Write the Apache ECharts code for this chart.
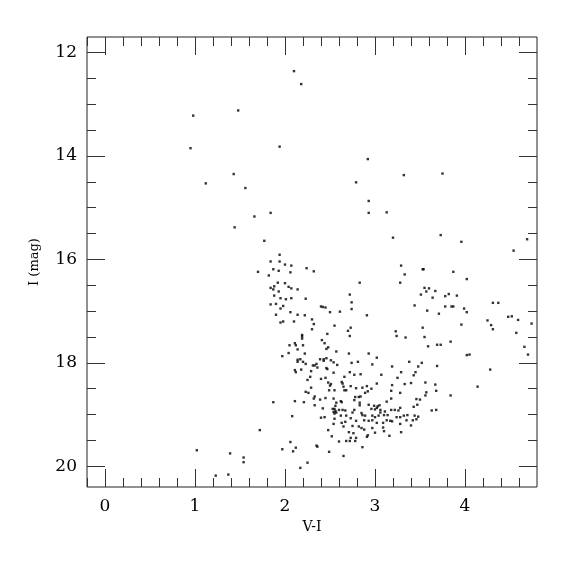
<!DOCTYPE html>
<html><head><meta charset="utf-8">
<script src="https://cdn.jsdelivr.net/npm/echarts@6/dist/echarts.min.js"></script>
<style>html,body{margin:0;padding:0;background:#fff}#c{width:575px;height:575px}</style>
</head><body><div id="c"></div>
<script>
// V-I colour of each star
const viColor = [
2.10,2.18,1.48,0.98,0.95,1.94,1.43,1.12,1.56,1.84,1.66,1.44,
2.92,3.32,3.75,2.79,2.93,2.93,3.13,3.73,
1.77,1.94,1.84,1.94,2.00,2.07,1.87,1.93,1.70,2.06,2.24,2.32,1.82,2.83,1.92,2.00,1.84,1.88,1.87,2.04,2.07,2.14,1.93,2.72,1.88,1.95,2.01,2.07,2.23,2.74,1.84,1.90,1.98,1.95,2.40,2.42,2.45,2.74,2.50,2.61,2.06,1.90,2.14,2.22,2.91,2.30,1.95,1.98,2.10,2.32,2.55,2.73,2.30,2.70,2.47,2.19,2.19,2.19,2.72,
3.20,3.96,4.69,4.54,3.29,3.53,3.54,3.33,3.87,4.02,3.28,3.55,3.60,3.67,3.57,3.51,3.82,3.78,3.64,3.91,3.44,3.78,3.85,3.87,3.99,4.31,4.37,3.58,4.02,3.71,4.48,4.52,4.59,4.25,4.74,3.96,4.29,4.31,3.53,3.23,3.24,3.34,3.55,4.57,
2.41,2.44,2.11,2.05,2.12,2.20,2.48,2.46,2.14,2.57,2.04,2.22,1.97,2.46,2.43,2.39,2.17,2.14,2.43,2.51,2.14,2.20,2.54,2.23,2.35,2.58,2.33,2.31,2.36,2.46,2.47,2.18,2.11,2.12,2.29,2.54,2.28,2.45,2.40,2.25,2.48,2.51,2.50,2.29,2.23,2.26,2.49,2.55,2.33,2.32,2.45,2.39,2.54,2.11,2.21,1.87,2.57,2.33,2.42,2.56,2.55,2.53,2.56,2.54,2.57,2.55,
3.59,3.69,2.71,2.93,3.02,2.74,2.81,2.97,3.38,3.52,3.48,3.69,3.19,2.72,2.77,2.84,3.07,3.29,3.45,3.43,2.66,3.25,2.63,2.64,3.56,3.67,3.40,3.33,3.02,2.73,2.65,2.66,2.68,2.91,2.86,2.79,2.96,3.19,3.18,2.92,2.89,2.84,2.82,2.78,2.77,3.28,3.57,3.56,3.68,2.62,2.63,3.13,3.18,3.46,3.50,3.47,3.43,2.93,2.99,3.03,3.05,3.06,2.96,3.00,3.02,2.83,2.83,2.77,2.75,2.67,2.60,2.64,3.18,3.22,3.26,3.28,3.11,2.85,3.06,3.63,3.68,
2.08,2.40,2.44,2.55,2.54,1.72,2.48,2.52,2.06,2.35,2.36,2.12,1.97,2.09,2.49,1.54,1.54,2.25,2.17,
2.62,2.68,2.73,2.86,2.89,2.97,3.00,3.04,3.10,3.14,3.24,3.28,3.32,3.36,3.44,2.63,2.67,2.79,2.88,2.93,2.97,3.02,3.09,3.13,3.17,3.19,3.28,3.35,3.42,3.46,3.48,3.40,2.65,2.75,2.82,2.85,2.88,2.97,3.09,3.10,3.00,2.92,2.91,3.16,3.29,2.76,2.71,2.73,2.79,2.78,2.72,2.68,2.60,2.86,2.65,
3.73,3.84,4.66,4.70,4.02,4.05,4.28,4.14,3.84,
1.02,1.39,1.23,1.37
];
// I magnitude of each star (same order)
const iMag = [
12.36,12.61,13.12,13.22,13.85,13.82,14.35,14.53,14.62,15.10,15.17,15.38,
14.06,14.37,14.34,14.51,14.87,15.10,15.09,15.53,
15.64,15.91,16.04,16.04,16.10,16.12,16.19,16.22,16.24,16.25,16.17,16.23,16.31,16.45,16.45,16.46,16.55,16.52,16.58,16.53,16.56,16.58,16.62,16.68,16.70,16.75,16.77,16.75,16.76,16.83,16.87,16.86,16.90,16.95,16.91,16.92,16.93,16.96,17.02,17.01,17.02,17.07,17.07,17.08,17.08,17.16,17.22,17.20,17.20,17.25,17.28,17.32,17.35,17.38,17.44,17.46,17.49,17.53,17.48,
15.58,15.66,15.61,15.83,16.12,16.19,16.19,16.29,16.24,16.38,16.45,16.55,16.56,16.61,16.62,16.68,16.67,16.71,16.74,16.70,16.89,16.91,16.91,16.91,16.95,16.84,16.84,16.99,17.02,17.05,17.11,17.10,17.17,17.18,17.24,17.26,17.27,17.35,17.32,17.39,17.48,17.51,17.50,17.42,
17.56,17.62,17.62,17.66,17.66,17.66,17.70,17.73,17.74,17.78,17.81,17.82,17.87,17.91,17.93,17.93,17.93,17.94,17.96,17.95,17.98,17.98,17.99,18.02,18.02,18.04,18.05,18.05,18.09,18.10,18.12,18.13,18.14,18.18,18.16,18.19,18.27,18.29,18.31,18.33,18.38,18.41,18.44,18.48,18.56,18.58,18.53,18.53,18.65,18.69,18.68,18.71,18.69,18.74,18.76,18.76,18.77,18.82,18.88,18.83,18.89,18.89,18.93,18.95,18.96,18.98,
17.68,17.65,17.82,17.82,17.90,18.00,17.98,18.03,17.98,18.00,18.07,18.06,18.07,18.18,18.23,18.22,18.23,18.18,18.18,18.24,18.27,18.29,18.37,18.40,18.38,18.42,18.39,18.41,18.40,18.45,18.46,18.53,18.53,18.45,18.48,18.49,18.50,18.43,18.54,18.55,18.58,18.65,18.66,18.66,18.72,18.58,18.57,18.63,18.54,18.74,18.76,18.75,18.69,18.70,18.71,18.81,18.85,18.81,18.83,18.84,18.82,18.91,18.89,18.90,18.87,18.77,18.82,18.91,18.96,18.92,18.91,18.91,18.91,18.91,18.92,18.87,18.94,18.97,18.96,18.92,18.91,
19.03,19.06,19.05,19.08,19.18,19.30,19.30,19.42,19.53,19.60,19.62,19.64,19.67,19.71,19.72,19.83,19.92,19.93,20.03,
19.02,19.02,19.07,19.01,19.02,19.02,19.05,19.02,19.01,19.01,19.05,19.05,19.02,19.01,19.02,19.16,19.14,19.12,19.11,19.12,19.11,19.16,19.16,19.11,19.12,19.13,19.18,19.11,19.11,19.09,19.04,19.21,19.23,19.22,19.23,19.26,19.29,19.26,19.25,19.32,19.35,19.40,19.43,19.41,19.34,19.36,19.34,19.45,19.45,19.51,19.51,19.51,19.52,19.63,19.80,
17.65,17.59,17.69,17.84,17.85,17.84,18.13,18.46,18.63,
19.69,19.75,20.18,20.16
];
const xMajorTicks = [0, 1, 2, 3, 4];
const xMinorTicks = [-0.2,0.2,0.4,0.6,0.8,1.2,1.4,1.6,1.8,2.2,2.4,2.6,2.8,3.2,3.4,3.6,3.8,4.2,4.4,4.6];
const yMajorTicks = [12, 14, 16, 18, 20];
const yMinorTicks = [12.5,13,13.5,14.5,15,15.5,16.5,17,17.5,18.5,19,19.5];

const points = viColor.map((v, i) => [v, iMag[i]]);
const FONT = 'DejaVu Serif';
const tickStyle = {color: '#333', width: 1};

function xAx(pos, ticks, len, labels, name) {
  return {
    type: 'value', min: -0.2, max: 4.8, position: pos,
    axisLine: {show: false, onZero: false}, splitLine: {show: false},
    axisTick: {show: true, inside: true, length: len, customValues: ticks, lineStyle: tickStyle},
    axisLabel: labels ? {show: true, customValues: ticks, margin: 11, fontFamily: FONT, fontSize: 17, color: '#000'} : {show: false},
    name: name || '', nameLocation: 'middle', nameGap: 29,
    nameTextStyle: {fontFamily: FONT, fontSize: 14, color: '#000'}
  };
}
function yAx(pos, ticks, len, labels, name) {
  return {
    type: 'value', min: 11.7, max: 20.4, inverse: true, position: pos,
    axisLine: {show: false, onZero: false}, splitLine: {show: false},
    axisTick: {show: true, inside: true, length: len, customValues: ticks, lineStyle: tickStyle},
    axisLabel: labels ? {show: true, customValues: ticks, margin: 10, fontFamily: FONT, fontSize: 17, color: '#000'} : {show: false},
    name: name || '', nameLocation: 'middle', nameGap: 46, nameRotate: 90,
    nameTextStyle: {fontFamily: FONT, fontSize: 13, color: '#000'}
  };
}

const chart = echarts.init(document.getElementById('c'), null, {renderer: 'canvas'});
chart.setOption({
  animation: false,
  backgroundColor: '#fff',
  grid: {left: 87, top: 37, right: 38, bottom: 88, show: true, borderColor: '#222', borderWidth: 1, backgroundColor: 'transparent'},
  xAxis: [
    xAx('bottom', xMajorTicks, 18, true, 'V-I'),
    xAx('bottom', xMinorTicks, 9, false),
    xAx('top', xMajorTicks, 18, false),
    xAx('top', xMinorTicks, 9, false)
  ],
  yAxis: [
    yAx('left', yMajorTicks, 18, true, 'I (mag)'),
    yAx('left', yMinorTicks, 9, false),
    yAx('right', yMajorTicks, 18, false),
    yAx('right', yMinorTicks, 9, false)
  ],
  series: [{
    type: 'scatter', xAxisIndex: 0, yAxisIndex: 0,
    symbol: 'rect', symbolSize: 2.4, silent: true,
    itemStyle: {color: '#000'},
    data: points
  }]
});
</script></body></html>
